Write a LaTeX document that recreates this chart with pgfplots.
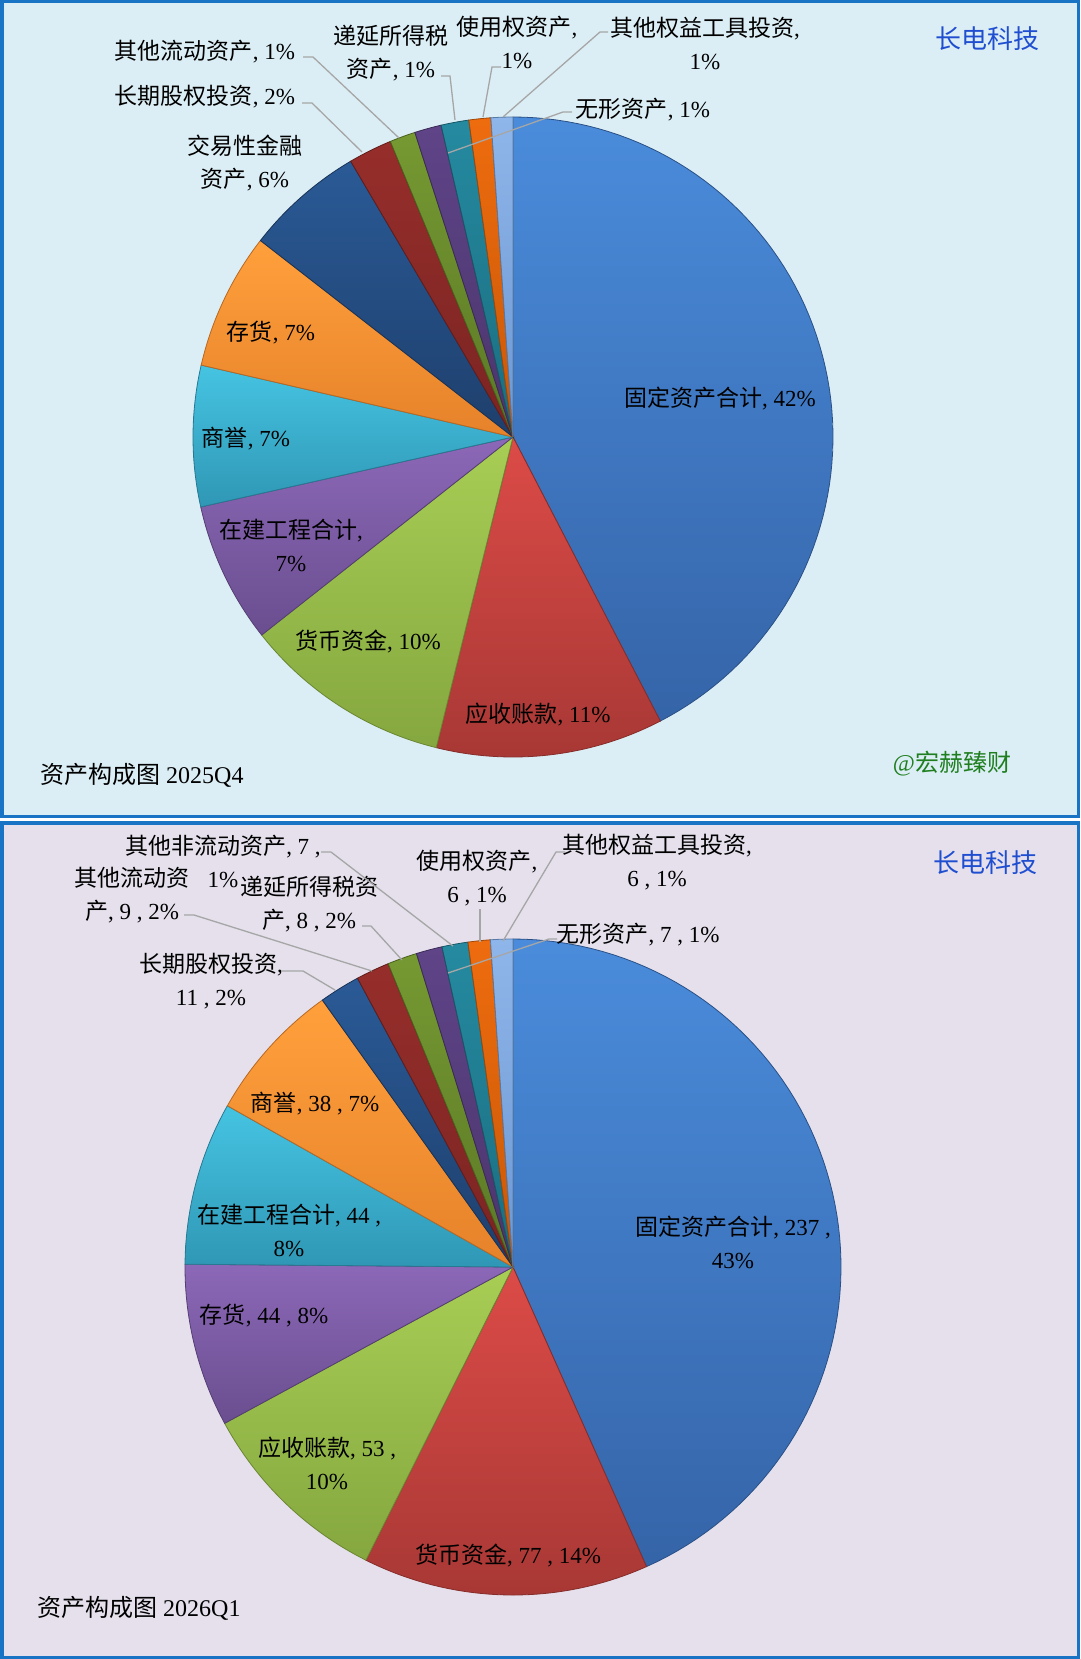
\documentclass[border=0pt]{standalone}
\usepackage{pgfplots}
\pgfplotsset{compat=1.18}
\usepackage{pgfplotstable}
\usepackage{fontspec}
\setmainfont{Liberation Serif}
\newfontfamily\cjk{Noto Sans CJK SC}
\newcommand\zh[1]{{\cjk #1}}

\definecolor{c1t}{HTML}{4A8CDB}\definecolor{c1b}{HTML}{3564A8}
\definecolor{c2t}{HTML}{DC4B47}\definecolor{c2b}{HTML}{A83835}
\definecolor{c3t}{HTML}{A8CE55}\definecolor{c3b}{HTML}{85A73F}
\definecolor{c4t}{HTML}{8C68B8}\definecolor{c4b}{HTML}{6A4E8F}
\definecolor{c5t}{HTML}{45C4E2}\definecolor{c5b}{HTML}{2F97B5}
\definecolor{c6t}{HTML}{FFA03C}\definecolor{c6b}{HTML}{E6822A}
\definecolor{c7t}{HTML}{2A5A96}\definecolor{c7b}{HTML}{1E3F6C}
\definecolor{c8t}{HTML}{962E2B}\definecolor{c8b}{HTML}{7A2422}
\definecolor{c9t}{HTML}{769932}\definecolor{c9b}{HTML}{5B7826}
\definecolor{c10t}{HTML}{5F4488}\definecolor{c10b}{HTML}{4A356B}
\definecolor{c11t}{HTML}{258AA0}\definecolor{c11b}{HTML}{1B6D80}
\definecolor{c12t}{HTML}{EE6C0E}\definecolor{c12b}{HTML}{C85808}
\definecolor{c13t}{HTML}{8FB6EA}\definecolor{c13b}{HTML}{6C97D2}
\definecolor{bgtop}{HTML}{DCEEF5}
\definecolor{bgbot}{HTML}{E5E0EC}
\definecolor{framec}{HTML}{1A74C6}
\definecolor{titleblue}{HTML}{1F4FD0}
\definecolor{wmgreen}{HTML}{1F7F1F}
\definecolor{leader}{HTML}{A6A6A6}

% 2025Q4 shares (%): 固定资产合计, 应收账款, 货币资金, 在建工程合计, 商誉, 存货,
% 交易性金融资产, 长期股权投资, 其他流动资产, 无形资产, 递延所得税资产, 使用权资产, 其他权益工具投资
\pgfplotstableread{
idx value
1 42.3
2 11.45
3 10.5
4 7.1
5 7.1
6 6.9
7 6.0
8 2.2
9 1.3
10 1.35
11 1.4
12 1.1
13 1.1
}\tabA

% 2026Q1 values: 固定资产合计, 货币资金, 应收账款, 存货, 在建工程合计, 商誉, 长期股权投资,
% 其他流动资产, 递延所得税资产, 其他非流动资产, 无形资产, 使用权资产, 其他权益工具投资
\pgfplotstableread{
idx value
1 237
2 77
3 53
4 44
5 44
6 38
7 11
8 9
9 8
10 7
11 7
12 6
13 6
}\tabB

\newcommand\drawpie[1]{%
  \gdef\pietotal{0}%
  \pgfplotsforeachungrouped \ii in {0,...,12}{%
    \pgfplotstablegetelem{\ii}{value}\of{#1}%
    \pgfmathsetmacro\tmpa{\pietotal+\pgfplotsretval}%
    \xdef\pietotal{\tmpa}}%
  \gdef\piecum{0}%
  \pgfplotsforeachungrouped \ii in {0,...,12}{%
    \pgfplotstablegetelem{\ii}{value}\of{#1}%
    \pgfmathsetmacro\aS{90-360*(\piecum/\pietotal)}%
    \pgfmathsetmacro\tmpa{\piecum+\pgfplotsretval}%
    \xdef\piecum{\tmpa}%
    \pgfmathsetmacro\aE{90-360*(\piecum/\pietotal)}%
    \pgfmathtruncatemacro\kk{\ii+1}%
    \edef\doit{\noexpand\addplot[top color=c\kk t, bottom color=c\kk b, draw=c\kk b!80!black, line width=0.8pt, domain=\aE:\aS, samples=80] ({cos(x)}, {sin(x)}) -- (axis cs:0,0) -- cycle;}%
    \doit}%
}

\newcommand\lab[3]{\node[font=\fontsize{23}{33}\selectfont, align=center, inner sep=0pt] at (#1pt,-#2pt) {#3};}
\newcommand\lead[6]{\draw[leader, line width=1.3pt] (#1pt,-#2pt) -- (#3pt,-#4pt) -- (#5pt,-#6pt);}

\begin{document}
\begin{tikzpicture}
\useasboundingbox (0pt,0pt) rectangle (1080pt,-1659pt);
% panels
\fill[white] (0pt,0pt) rectangle (1080pt,-1659pt);
\fill[bgtop] (0pt,0pt) rectangle (1080pt,-818pt);
\draw[framec, line width=3.5pt] (1.75pt,-1.75pt) rectangle (1078.25pt,-816.25pt);
\fill[bgbot] (0pt,-821pt) rectangle (1080pt,-1659pt);
\draw[framec, line width=3.5pt] (1.75pt,-822.75pt) rectangle (1078.25pt,-1657.25pt);

% top pie
\begin{axis}[at={(513pt,-437pt)}, anchor=center, scale only axis, width=640pt, height=640pt,
  xmin=-1, xmax=1, ymin=-1, ymax=1, hide axis, clip=false]
\drawpie{\tabA}
\end{axis}

% bottom pie
\begin{axis}[at={(513pt,-1267pt)}, anchor=center, scale only axis, width=656pt, height=656pt,
  xmin=-1, xmax=1, ymin=-1, ymax=1, hide axis, clip=false]
\drawpie{\tabB}
\end{axis}

% ---------- top labels
\lab{720}{399}{\zh{固定资产合计}, 42\%}
\lab{538}{715}{\zh{应收账款}, 11\%}
\lab{368}{641}{\zh{货币资金}, 10\%}
\lab{291}{545}{\zh{在建工程合计},\\7\%}
\lab{246}{439}{\zh{商誉}, 7\%}
\lab{271}{333}{\zh{存货}, 7\%}
\lab{245}{163}{\zh{交易性金融}\\\zh{资产}, 6\%}
\lab{205}{97}{\zh{长期股权投资}, 2\%}
\lab{205}{52}{\zh{其他流动资产}, 1\%}
\lab{391}{53}{\zh{递延所得税}\\\zh{资产}, 1\%}
\lab{517}{42}{\zh{使用权资产},\\1\%}
\lab{705}{43}{\zh{其他权益工具投资},\\1\%}
\lab{643}{110}{\zh{无形资产}, 1\%}
\lead{302}{103}{312}{103}{362}{152}
\lead{303}{57}{313}{57}{399}{138}
\lead{441}{76}{450}{76}{455}{120}
\lead{501}{67}{492}{67}{483}{117}
\lead{608}{32}{600}{32}{503}{117}
\lead{572}{112}{563}{112}{448}{153}
\node[font=\fontsize{26}{30}\selectfont, text=titleblue] at (987pt,-39pt) {\zh{长电科技}};
\node[font=\fontsize{24}{30}\selectfont, anchor=west, inner sep=0pt] at (40pt,-775pt) {\zh{资产构成图} 2025Q4};
\node[font=\fontsize{24}{30}\selectfont, text=wmgreen] at (952pt,-764pt) {@\zh{宏赫臻财}};

% ---------- bottom labels
\lab{733}{1242}{\zh{固定资产合计}, 237 ,\\43\%}
\lab{508}{1555}{\zh{货币资金}, 77 , 14\%}
\lab{327}{1463}{\zh{应收账款}, 53 ,\\10\%}
\lab{264}{1316}{\zh{存货}, 44 , 8\%}
\lab{289}{1230}{\zh{在建工程合计}, 44 ,\\8\%}
\lab{315}{1104}{\zh{商誉}, 38 , 7\%}
\lab{211}{981}{\zh{长期股权投资},\\11 , 2\%}
\lab{132}{895}{\zh{其他流动资}\\\zh{产}, 9 , 2\%}
\lab{223}{861}{\zh{其他非流动资产}, 7 ,\\1\%}
\lab{309}{904}{\zh{递延所得税资}\\\zh{产}, 8 , 2\%}
\lab{477}{878}{\zh{使用权资产},\\6 , 1\%}
\lab{657}{862}{\zh{其他权益工具投资},\\6 , 1\%}
\lab{638}{935}{\zh{无形资产}, 7 , 1\%}
\lead{281}{971}{303}{971}{335}{990}
\lead{184}{915}{194}{915}{372}{971}
\lead{321}{852}{331}{852}{453}{946}
\lead{362}{926}{371}{926}{402}{960}
\lead{480}{909}{480}{909}{480}{942}
\lead{565}{852}{556}{852}{503}{941}
\lead{557}{939}{549}{939}{448}{973}
\node[font=\fontsize{26}{30}\selectfont, text=titleblue] at (985pt,-863pt) {\zh{长电科技}};
\node[font=\fontsize{24}{30}\selectfont, anchor=west, inner sep=0pt] at (37pt,-1608pt) {\zh{资产构成图} 2026Q1};
\end{tikzpicture}
\end{document}
